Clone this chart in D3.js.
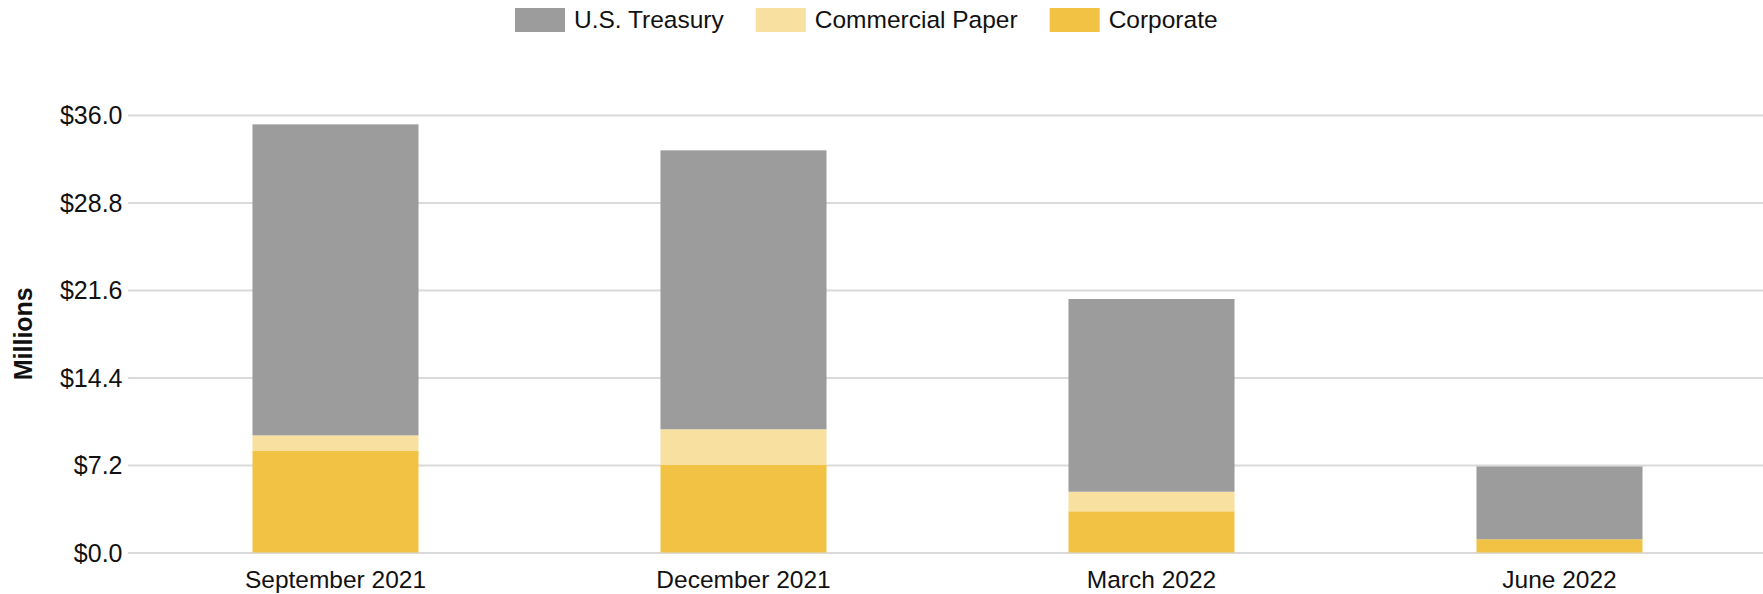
<!DOCTYPE html>
<html>
<head>
<meta charset="utf-8">
<script src="https://cdn.jsdelivr.net/npm/d3@7"></script>
<style>
  html, body { margin: 0; padding: 0; background: #fff; }
  svg text { font-family: "Liberation Sans", Arial, sans-serif; fill: #111; }
</style>
</head>
<body>
<svg id="chart" width="1763" height="594"></svg>
<script>
// Quarter-end holdings by security type, $ millions
const categories = ["September 2021", "December 2021", "March 2022", "June 2022"];
const corporate = [8.35, 7.2, 3.39, 1.09];
const commercialPaper = [1.29, 2.94, 1.61, 0];
const treasury = [25.59, 22.95, 15.86, 5.99];
const yTicks = [0, 7.2, 14.4, 21.6, 28.8, 36.0];

const seriesNames = ["Corporate", "Commercial Paper", "U.S. Treasury"];
const colors = {
  "U.S. Treasury": "#9c9c9c",
  "Commercial Paper": "#f8e0a1",
  "Corporate": "#f2c244"
};
const legendOrder = ["U.S. Treasury", "Commercial Paper", "Corporate"];

const rows = categories.map((c, i) => ({
  category: c,
  "Corporate": corporate[i],
  "Commercial Paper": commercialPaper[i],
  "U.S. Treasury": treasury[i]
}));

const svg = d3.select("#chart");
const W = 1763, H = 594;
const plot = { left: 131.5, right: 1763.5, top: 115, bottom: 552.5 };

const x = d3.scaleBand()
  .domain(categories)
  .range([plot.left, plot.right])
  .paddingInner(0.593)
  .paddingOuter(0.2965);

const y = d3.scaleLinear()
  .domain([0, 36])
  .range([plot.bottom, plot.top]);

// Horizontal gridlines with dollar tick labels
const yAxis = d3.axisLeft(y)
  .tickValues(yTicks)
  .tickSize(-(W - 128))
  .tickPadding(6)
  .tickFormat(d => "$" + d.toFixed(1));

const gy = svg.append("g")
  .attr("transform", "translate(128,0)")
  .call(yAxis);
gy.select(".domain").remove();
gy.selectAll(".tick line").attr("stroke", "#dadada").attr("stroke-width", 2);
gy.selectAll(".tick text")
  .attr("x", -5.5)
  .attr("dy", "0.35em")
  .style("font-size", "25px")
  .style("fill", "#111");

// Stacked bars
const stack = d3.stack().keys(seriesNames);
const layers = stack(rows);

svg.append("g")
  .selectAll("g")
  .data(layers)
  .join("g")
  .attr("fill", d => colors[d.key])
  .selectAll("rect")
  .data(d => d)
  .join("rect")
  .attr("x", d => x(d.data.category))
  .attr("width", x.bandwidth())
  .attr("y", d => y(d[1]))
  .attr("height", d => Math.max(0, y(d[0]) - y(d[1])));

// Category labels
const xAxis = d3.axisBottom(x).tickSize(0).tickPadding(0);
const gx = svg.append("g")
  .call(xAxis);
gx.select(".domain").remove();
gx.selectAll(".tick text")
  .attr("y", 588)
  .attr("dy", 0)
  .style("font-size", "24.5px")
  .style("fill", "#111");

// Y axis title
svg.append("text")
  .attr("transform", `translate(32,${(plot.top + plot.bottom) / 2}) rotate(-90)`)
  .attr("text-anchor", "middle")
  .style("font-size", "25px")
  .style("font-weight", "bold")
  .text("Millions");

// Legend
const legend = svg.append("g");
let lx = 515;
legendOrder.forEach(name => {
  legend.append("rect")
    .attr("x", lx).attr("y", 8)
    .attr("width", 50).attr("height", 24)
    .attr("fill", colors[name]);
  const t = legend.append("text")
    .attr("x", lx + 59).attr("y", 28)
    .style("font-size", "24.5px")
    .text(name);
  lx += 59 + t.node().getComputedTextLength() + 32;
});
</script>
</body>
</html>
